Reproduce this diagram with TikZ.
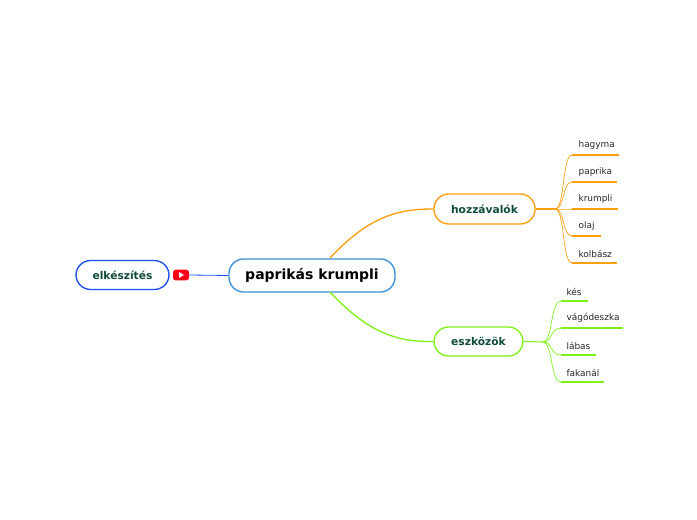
\documentclass[tikz,border=0pt]{standalone}
\usepackage{fontspec}
\setmainfont{DejaVu Sans}
\definecolor{txt}{HTML}{0F4A3A}
\definecolor{org}{HTML}{FF9E0F}
\definecolor{grn}{HTML}{7FF01A}
\definecolor{blu}{HTML}{3B8FD6}
\definecolor{dblu}{HTML}{1A4DF0}
\begin{document}
\begin{tikzpicture}[x=0.75pt,y=-0.75pt,
 box/.style={draw,rounded corners=11pt,line width=1pt,inner sep=0pt,font=\bfseries\fontsize{8}{9}\selectfont,text=txt},
 leaf/.style={anchor=south west,inner sep=1pt,font=\fontsize{6.7}{8}\selectfont,text=black!85},
 ul/.style={line width=1.6pt}]
\useasboundingbox (0,0) rectangle (697,520);
\node[box,draw=blu,minimum width=124.5pt,minimum height=24.75pt,font=\bfseries\fontsize{10.5}{12}\selectfont,text=black] (c) at (312,275.5) {paprikás krumpli};
\node[box,draw=dblu,minimum width=69.75pt,minimum height=21.75pt] (e) at (122.5,275) {elkészítés};
\node[fill=red!90!magenta,rounded corners=2pt,minimum width=12pt,minimum height=8pt,inner sep=0pt] (yt) at (181,275) {};
\fill[white] (179,272) -- (179,278) -- (184,275) -- cycle;
\draw[dblu,line width=0.6pt] (yt.east) -- (c.west);
\node[box,draw=org,minimum width=75.75pt,minimum height=22.5pt] (h) at (484.5,209) {hozzávalók};
\node[box,draw=grn,minimum width=66.75pt,minimum height=21.75pt] (z) at (478.5,341.5) {eszközök};
\draw[org,line width=1pt] (330,258) .. controls (370,215) and (400,209) .. (h.west);
\draw[grn,line width=1pt] (330,292) .. controls (370,335) and (400,342) .. (z.west);
\coordinate (hs) at (555,209);
\draw[org,line width=0.8pt] (h.east) -- (hs);
\foreach \t/\y/\w in {hagyma/155/619,paprika/182/617,krumpli/209/618,olaj/236/601,kolbász/263/617}{
 \node[leaf] (n\y) at (577,\y-4) {\t};
 \draw[org,line width=0.5pt] (hs) .. controls (565,209) and (562,\y) .. (572,\y);
 \draw[org,ul] (572,\y) -- (\w,\y);}
\coordinate (zs) at (543,342);
\draw[grn,line width=0.8pt] (z.east) -- (zs);
\foreach \t/\y/\w in {kés/301/588,vágódeszka/328/623,lábas/355/596,fakanál/382/604}{
 \node[leaf] (m\y) at (565,\y-4) {\t};
 \draw[grn,line width=0.5pt] (zs) .. controls (553,342) and (550,\y) .. (561,\y);
 \draw[grn,ul] (561,\y) -- (\w,\y);}
\end{tikzpicture}
\end{document}
